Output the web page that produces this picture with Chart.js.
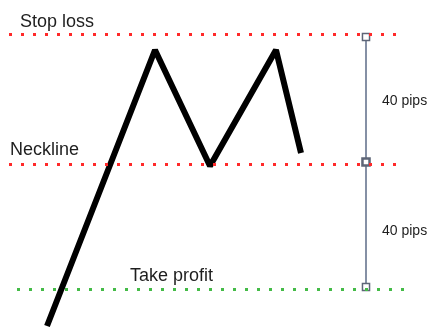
<!DOCTYPE html>
<html>
<head>
<meta charset="utf-8">
<script src="https://cdn.jsdelivr.net/npm/chart.js@4"></script>
<style>
  body { margin: 0; background: #fff; }
  canvas { display: block; }
</style>
</head>
<body>
<canvas id="chart" width="429" height="329"></canvas>
<script>
// price path of the double top (x = time, y = price level)
const pathX = [47, 155, 210, 276, 301];
const pathY = [3, 279, 163, 279, 176];

// horizontal levels
const levelNames = ["Stop loss", "Neckline", "Take profit"];
const levelValues = [294.5, 164.5, 39.5];

// distance measure on the right
const measureX = 366;
const measureY = [292, 167, 42];
const measureLabels = ["40 pips", "40 pips"];

const RED = "#ff2a2a";
const GREEN = "#44bb47";

function level(y, x0, x1) {
  return [{ x: x0, y: y }, { x: x1, y: y }];
}

const labelsPlugin = {
  id: "labels",
  afterDraw(chart) {
    const c = chart.ctx;
    const xs = chart.scales.x, ys = chart.scales.y;
    c.save();
    c.fillStyle = "#1e1e1e";
    c.textBaseline = "alphabetic";
    c.font = "18px 'Liberation Sans', Arial, sans-serif";
    const lx = [20, 10, 130];
    const off = [8, 10, 9];
    levelNames.forEach((n, i) => {
      c.fillText(n, xs.getPixelForValue(lx[i]), ys.getPixelForValue(levelValues[i]) - off[i]);
    });
    c.font = "14px 'Liberation Sans', Arial, sans-serif";
    c.textBaseline = "middle";
    measureLabels.forEach((t, i) => {
      const mid = (ys.getPixelForValue(measureY[i]) + ys.getPixelForValue(measureY[i + 1])) / 2;
      c.fillText(t, xs.getPixelForValue(measureX) + 16, mid + 2 + i * 5);
    });
    c.restore();
  }
};

new Chart(document.getElementById("chart"), {
  type: "scatter",
  data: {
    datasets: [
      {
        data: level(levelValues[0], 9, 401),
        showLine: true, borderColor: RED, borderWidth: 3,
        borderDash: [3, 9], pointRadius: 0
      },
      {
        data: level(levelValues[1], 9, 401),
        showLine: true, borderColor: RED, borderWidth: 3,
        borderDash: [3, 9], pointRadius: 0
      },
      {
        data: level(levelValues[2], 17, 410),
        showLine: true, borderColor: GREEN, borderWidth: 3,
        borderDash: [3, 9], pointRadius: 0
      },
      {
        data: pathX.map((x, i) => ({ x: x, y: pathY[i] })),
        showLine: true, borderColor: "#000", borderWidth: 6,
        borderJoinStyle: "bevel", pointRadius: 0
      },
      {
        data: measureY.map(y => ({ x: measureX, y: y })),
        showLine: true, borderColor: "#8590a5", borderWidth: 2,
        pointStyle: "rect", pointRadius: 5,
        pointBackgroundColor: "#fff", pointBorderColor: "#5d6577",
        pointBorderWidth: [1.5, 2.5, 1.5]
      }
    ]
  },
  options: {
    responsive: false,
    animation: false,
    layout: { padding: 0, autoPadding: false },
    plugins: { legend: { display: false }, tooltip: { enabled: false } },
    scales: {
      x: { type: "linear", display: false, min: 0, max: 429 },
      y: { type: "linear", display: false, min: 0, max: 329 }
    }
  },
  plugins: [labelsPlugin]
});
</script>
</body>
</html>
